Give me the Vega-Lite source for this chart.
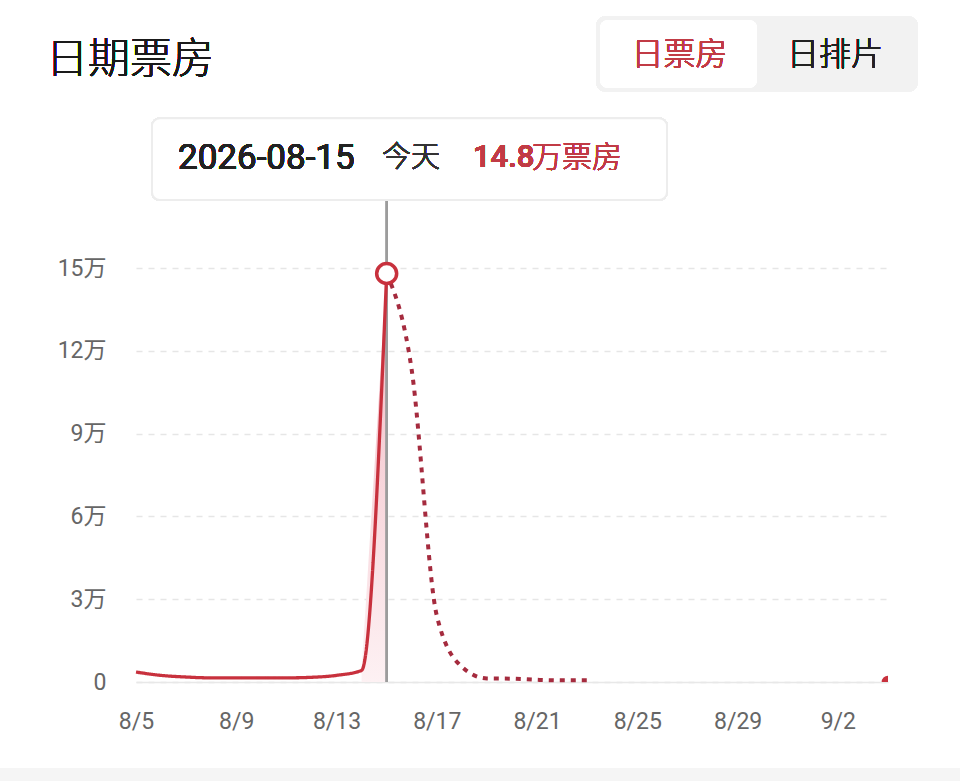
{
  "$schema": "https://vega.github.io/schema/vega-lite/v6.json",
  "width": 752,
  "height": 414,
  "autosize": {"type": "none"},
  "padding": {"left": 136, "top": 268, "right": 72, "bottom": 99},
  "background": "#ffffff",
  "config": {
    "view": {"stroke": null},
    "font": "Roboto, Noto Sans CJK SC",
    "axis": {"labelFont": "Roboto, Noto Sans CJK SC"}
  },
  "data": {
    "values": [
      {"date": "2026-08-05", "value": 0.36, "kind": "实际"},
      {"date": "2026-08-06", "value": 0.24, "kind": "实际"},
      {"date": "2026-08-07", "value": 0.18, "kind": "实际"},
      {"date": "2026-08-08", "value": 0.15, "kind": "实际"},
      {"date": "2026-08-09", "value": 0.15, "kind": "实际"},
      {"date": "2026-08-10", "value": 0.15, "kind": "实际"},
      {"date": "2026-08-11", "value": 0.15, "kind": "实际"},
      {"date": "2026-08-12", "value": 0.17, "kind": "实际"},
      {"date": "2026-08-13", "value": 0.24, "kind": "实际"},
      {"date": "2026-08-14", "value": 0.42, "kind": "实际"},
      {"date": "2026-08-15", "value": 14.8, "kind": "实际"},
      {"date": "2026-08-15", "value": 14.8, "kind": "预测"},
      {"date": "2026-08-16", "value": 11.3, "kind": "预测"},
      {"date": "2026-08-17", "value": 2.4, "kind": "预测"},
      {"date": "2026-08-18", "value": 0.55, "kind": "预测"},
      {"date": "2026-08-19", "value": 0.13, "kind": "预测"},
      {"date": "2026-08-20", "value": 0.12, "kind": "预测"},
      {"date": "2026-08-21", "value": 0.08, "kind": "预测"},
      {"date": "2026-08-22", "value": 0.06, "kind": "预测"},
      {"date": "2026-08-23", "value": 0.06, "kind": "预测"},
      {"date": "2026-09-04", "value": 0, "kind": "末端"}
    ]
  },
  "layer": [
    {
      "mark": {"type": "rect", "color": "#f5f5f5", "clip": false},
      "encoding": {
        "x": {"datum": {"year": 2026, "month": 7, "date": 29, "utc": true}, "type": "temporal"},
        "x2": {"datum": {"year": 2026, "month": 9, "date": 8, "utc": true}},
        "y": {"datum": -3.12, "type": "quantitative"},
        "y2": {"datum": -4.5}
      }
    },
    {
      "transform": [{"filter": "datum.kind == '实际' && time(datum.date) >= utc(2026, 7, 14)"}],
      "mark": {
        "type": "area",
        "interpolate": "monotone",
        "color": {
          "gradient": "linear",
          "x1": 0, "y1": 0, "x2": 0, "y2": 1,
          "stops": [
            {"offset": 0, "color": "#f2b8c2"},
            {"offset": 1, "color": "#fdf1f3"}
          ]
        }
      },
      "encoding": {
        "x": {"field": "date", "type": "temporal"},
        "y": {"field": "value", "type": "quantitative"}
      }
    },
    {
      "mark": {"type": "rule", "color": "#9c9c9c", "strokeWidth": 1.5},
      "encoding": {
        "x": {"datum": {"year": 2026, "month": 8, "date": 15, "utc": true}, "type": "temporal"},
        "y": {"datum": 0, "type": "quantitative"},
        "y2": {"datum": 17.46}
      }
    },
    {
      "transform": [{"filter": "datum.kind != '末端'"}],
      "mark": {"type": "line", "interpolate": "monotone"},
      "encoding": {
        "x": {
          "field": "date",
          "type": "temporal",
          "scale": {
            "type": "utc",
            "domain": [
              {"year": 2026, "month": 8, "date": 5, "utc": true},
              {"year": 2026, "month": 9, "date": 4, "utc": true}
            ]
          },
          "axis": {
            "title": null,
            "format": "%-m/%-d",
            "values": [
              {"year": 2026, "month": 8, "date": 5, "utc": true},
              {"year": 2026, "month": 8, "date": 9, "utc": true},
              {"year": 2026, "month": 8, "date": 13, "utc": true},
              {"year": 2026, "month": 8, "date": 17, "utc": true},
              {"year": 2026, "month": 8, "date": 21, "utc": true},
              {"year": 2026, "month": 8, "date": 25, "utc": true},
              {"year": 2026, "month": 8, "date": 29, "utc": true},
              {"year": 2026, "month": 9, "date": 2, "utc": true}
            ],
            "grid": false,
            "ticks": false,
            "domain": true,
            "domainColor": "#e8e8e8",
            "domainWidth": 1.5,
            "labelFontSize": 23,
            "labelColor": "#666666",
            "labelPadding": 28,
            "labelFlush": false,
            "labelOverlap": false
          }
        },
        "y": {
          "field": "value",
          "type": "quantitative",
          "scale": {"domain": [0, 15], "nice": false, "zero": true},
          "axis": {
            "title": null,
            "values": [0, 3, 6, 9, 12, 15],
            "labelExpr": "datum.value == 0 ? '0' : datum.value + '万'",
            "grid": true,
            "gridDash": [6, 6],
            "gridColor": "#e6e6e6",
            "gridWidth": 1.5,
            "domain": false,
            "ticks": false,
            "labelFontSize": 23,
            "labelColor": "#666666",
            "labelPadding": 30
          }
        },
        "color": {
          "field": "kind",
          "type": "nominal",
          "scale": {"domain": ["实际", "预测"], "range": ["#c8313d", "#a52b3e"]},
          "legend": null
        },
        "strokeDash": {
          "field": "kind",
          "type": "nominal",
          "scale": {"domain": ["实际", "预测"], "range": [[1, 0], [5, 6]]},
          "legend": null
        },
        "strokeWidth": {
          "field": "kind",
          "type": "nominal",
          "scale": {"domain": ["实际", "预测"], "range": [3.3, 4]},
          "legend": null
        }
      }
    },
    {
      "transform": [{"filter": "datum.kind == '末端'"}],
      "mark": {"type": "point", "shape": "circle", "filled": true, "color": "#c8313d", "size": 160, "clip": true, "opacity": 1},
      "encoding": {
        "x": {"field": "date", "type": "temporal"},
        "y": {"field": "value", "type": "quantitative"}
      }
    },
    {
      "transform": [{"filter": "datum.kind == '实际' && datum.value == 14.8"}],
      "mark": {"type": "point", "shape": "circle", "filled": true, "fill": "#ffffff", "stroke": "#c8313d", "strokeWidth": 3.5, "size": 400, "opacity": 1},
      "encoding": {
        "x": {"field": "date", "type": "temporal"},
        "y": {"field": "value", "type": "quantitative"}
      }
    },
    {
      "mark": {"type": "rect", "fill": "#ffffff", "stroke": "#ededed", "strokeWidth": 2, "cornerRadius": 8, "clip": false},
      "encoding": {
        "x": {"datum": {"year": 2026, "month": 8, "date": 5, "hours": 15, "minutes": 19, "utc": true}, "type": "temporal"},
        "x2": {"datum": {"year": 2026, "month": 8, "date": 26, "hours": 4, "minutes": 24, "utc": true}},
        "y": {"datum": 20.43, "type": "quantitative"},
        "y2": {"datum": 17.46}
      }
    },
    {
      "mark": {"type": "text", "text": "2026-08-15", "align": "left", "baseline": "middle", "fontSize": 35, "fontWeight": 400, "color": "#222222", "font": "Roboto"},
      "encoding": {
        "x": {"datum": {"year": 2026, "month": 8, "date": 6, "hours": 16, "minutes": 13, "utc": true}, "type": "temporal"},
        "y": {"datum": 18.99, "type": "quantitative"}
      }
    },
    {
      "mark": {"type": "text", "text": "今天", "align": "left", "baseline": "middle", "fontSize": 29, "fontWeight": 300, "color": "#333333", "font": "Noto Sans CJK SC"},
      "encoding": {
        "x": {"datum": {"year": 2026, "month": 8, "date": 14, "hours": 19, "minutes": 32, "utc": true}, "type": "temporal"},
        "y": {"datum": 18.99, "type": "quantitative"}
      }
    },
    {
      "mark": {"type": "text", "text": "14.8", "align": "left", "baseline": "middle", "fontSize": 31, "fontWeight": 500, "color": "#c13b45", "font": "Roboto"},
      "encoding": {
        "x": {"datum": {"year": 2026, "month": 8, "date": 18, "hours": 10, "minutes": 39, "utc": true}, "type": "temporal"},
        "y": {"datum": 18.99, "type": "quantitative"}
      }
    },
    {
      "mark": {"type": "text", "text": "万票房", "align": "left", "baseline": "middle", "fontSize": 30, "fontWeight": 300, "color": "#c13b45", "font": "Noto Sans CJK SC"},
      "encoding": {
        "x": {"datum": {"year": 2026, "month": 8, "date": 20, "hours": 19, "minutes": 9, "utc": true}, "type": "temporal"},
        "y": {"datum": 18.99, "type": "quantitative"}
      }
    },
    {
      "mark": {"type": "rect", "fill": "#f2f2f2", "cornerRadius": 10, "clip": false},
      "encoding": {
        "x": {"datum": {"year": 2026, "month": 8, "date": 23, "hours": 8, "minutes": 25, "utc": true}, "type": "temporal"},
        "x2": {"datum": {"year": 2026, "month": 9, "date": 5, "hours": 4, "minutes": 44, "utc": true}},
        "y": {"datum": 24.13, "type": "quantitative"},
        "y2": {"datum": 21.38}
      }
    },
    {
      "mark": {"type": "rect", "fill": "#ffffff", "cornerRadius": 8, "clip": false},
      "encoding": {
        "x": {"datum": {"year": 2026, "month": 8, "date": 23, "hours": 12, "minutes": 16, "utc": true}, "type": "temporal"},
        "x2": {"datum": {"year": 2026, "month": 8, "date": 29, "hours": 18, "minutes": 35, "utc": true}},
        "y": {"datum": 23.99, "type": "quantitative"},
        "y2": {"datum": 21.52}
      }
    },
    {
      "mark": {"type": "text", "text": "日票房", "align": "center", "baseline": "middle", "fontSize": 32, "fontWeight": 300, "color": "#c13b45", "font": "Noto Sans CJK SC"},
      "encoding": {
        "x": {"datum": {"year": 2026, "month": 8, "date": 26, "hours": 16, "minutes": 22, "utc": true}, "type": "temporal"},
        "y": {"datum": 22.72, "type": "quantitative"}
      }
    },
    {
      "mark": {"type": "text", "text": "日排片", "align": "center", "baseline": "middle", "fontSize": 32, "fontWeight": 300, "color": "#222222", "font": "Noto Sans CJK SC"},
      "encoding": {
        "x": {"datum": {"year": 2026, "month": 9, "date": 1, "hours": 21, "minutes": 16, "utc": true}, "type": "temporal"},
        "y": {"datum": 22.72, "type": "quantitative"}
      }
    },
    {
      "mark": {"type": "text", "text": "日期票房", "align": "left", "baseline": "middle", "fontSize": 42, "fontWeight": 300, "color": "#1a1a1a", "font": "Noto Sans CJK SC"},
      "encoding": {
        "x": {"datum": {"year": 2026, "month": 8, "date": 1, "hours": 9, "minutes": 50, "utc": true}, "type": "temporal"},
        "y": {"datum": 22.55, "type": "quantitative"}
      }
    }
  ]
}
